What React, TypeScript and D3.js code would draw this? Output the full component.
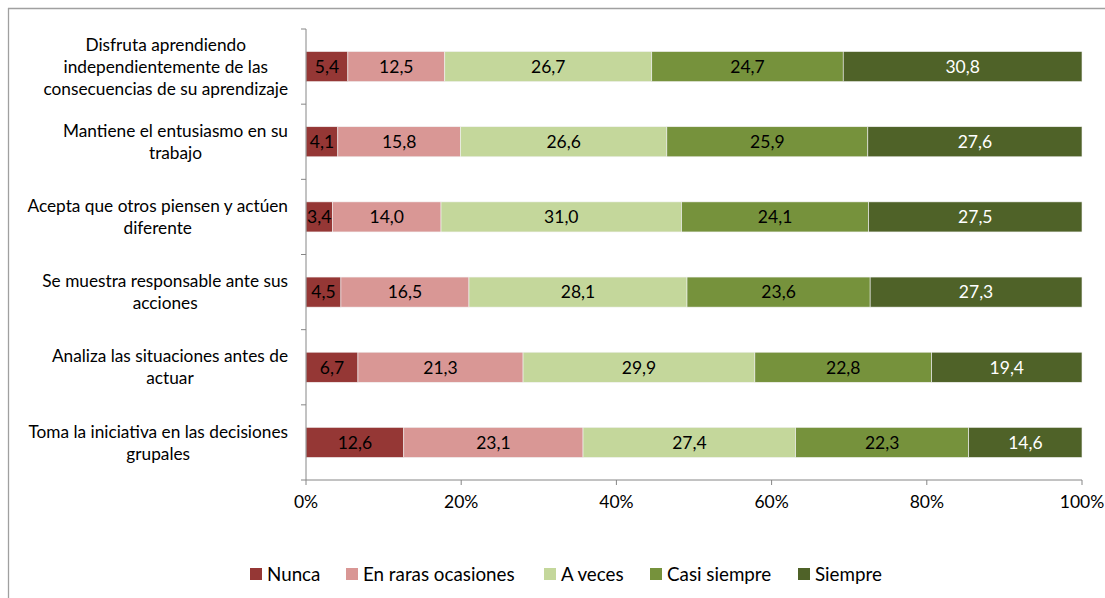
import React, { useEffect, useRef } from "react";
import * as d3 from "d3";

const categories: string[][] = [
  ["Disfruta aprendiendo", "independientemente de las", "consecuencias de su aprendizaje"],
  ["Mantiene el entusiasmo en su", "trabajo"],
  ["Acepta que otros piensen y actúen", "diferente"],
  ["Se muestra responsable ante sus", "acciones"],
  ["Analiza las situaciones antes de", "actuar"],
  ["Toma la iniciativa en las decisiones", "grupales"],
];
const seriesNames = ["Nunca", "En raras ocasiones", "A veces", "Casi siempre", "Siempre"];
const nunca = [5.4, 4.1, 3.4, 4.5, 6.7, 12.6];
const raras = [12.5, 15.8, 14.0, 16.5, 21.3, 23.1];
const aveces = [26.7, 26.6, 31.0, 28.1, 29.9, 27.4];
const casi = [24.7, 25.9, 24.1, 23.6, 22.8, 22.3];
const siempre = [30.8, 27.6, 27.5, 27.3, 19.4, 14.6];
const xTicks = [0, 20, 40, 60, 80, 100];

const colors = ["#953735", "#D99795", "#C4D79B", "#76923C", "#4F6228"];
const labelColors = ["#000", "#000", "#000", "#000", "#fff"];
const FONT = "Lato, 'Open Sans', sans-serif";
const legendX = [250, 346, 544, 650, 798];

export default function App() {
  const ref = useRef<SVGSVGElement>(null);
  useEffect(() => {
    const svg = d3.select(ref.current);
    svg.selectAll("*").remove();
    const W = 1105, H = 598;
    const left = 306, right = 1082, top = 29, bottom = 480;
    const series = [nunca, raras, aveces, casi, siempre];
    const rows = categories.map((_, i) => {
      const vals = series.map((s) => s[i]);
      const sum = d3.sum(vals);
      let acc = 0;
      return vals.map((v, k) => {
        const x0 = acc / sum;
        acc += v;
        return { x0, x1: acc / sum, v, k };
      });
    });

    // frame
    svg.append("line").attr("x1", 8.5).attr("x2", 8.5).attr("y1", 8).attr("y2", H)
      .attr("stroke", "#a0a0a0").attr("stroke-width", 1.3);
    svg.append("line").attr("x1", 8).attr("x2", W).attr("y1", 8.5).attr("y2", 8.5)
      .attr("stroke", "#a0a0a0").attr("stroke-width", 1.3);

    const x = d3.scaleLinear().domain([0, 1]).range([left, right]);
    const y = d3.scaleBand<number>().domain(d3.range(categories.length)).range([top, bottom]).paddingInner(0.6).paddingOuter(0.3);
    const yb = d3.scaleBand<number>().domain(d3.range(categories.length)).range([top, bottom]);

    // bars
    rows.forEach((segs, i) => {
      segs.forEach((s) => {
        svg.append("rect")
          .attr("x", x(s.x0)).attr("y", y(i)!)
          .attr("width", x(s.x1) - x(s.x0)).attr("height", y.bandwidth())
          .attr("fill", colors[s.k]).attr("stroke", "#f2f2f2").attr("stroke-width", 0.6);
        svg.append("text")
          .attr("x", (x(s.x0) + x(s.x1)) / 2).attr("y", y(i)! + y.bandwidth() / 2)
          .attr("dy", "0.36em").attr("text-anchor", "middle")
          .attr("font-family", FONT).attr("font-size", 17.5).attr("fill", labelColors[s.k])
          .text(s.v.toFixed(1).replace(".", ","));
      });
    });

    // axes
    const axisColor = "#868686";
    svg.append("line").attr("x1", left).attr("x2", left).attr("y1", top).attr("y2", bottom)
      .attr("stroke", axisColor).attr("stroke-width", 1);
    for (let i = 0; i <= categories.length; i++) {
      const yy = i < categories.length ? yb(i)! : bottom;
      svg.append("line").attr("x1", left - 5).attr("x2", left).attr("y1", yy).attr("y2", yy)
        .attr("stroke", axisColor);
    }
    svg.append("line").attr("x1", left).attr("x2", right).attr("y1", bottom).attr("y2", bottom)
      .attr("stroke", axisColor);
    xTicks.forEach((t) => {
      svg.append("line").attr("x1", x(t / 100)).attr("x2", x(t / 100)).attr("y1", bottom).attr("y2", bottom + 5)
        .attr("stroke", axisColor);
      svg.append("text").attr("x", x(t / 100)).attr("y", bottom + 28).attr("text-anchor", "middle")
        .attr("font-family", FONT).attr("font-size", 17.5).attr("fill", "#000").text(`${t}%`);
    });

    // category labels
    const lineH = 22;
    categories.forEach((lines, i) => {
      const cy = yb(i)! + yb.bandwidth() / 2;
      const g = svg.append("g");
      const texts = lines.map((l, j) =>
        g.append("text").attr("y", cy + (j - (lines.length - 1) / 2) * lineH).attr("dy", "0.36em")
          .attr("text-anchor", "middle").attr("font-family", FONT).attr("font-size", 17.25)
          .attr("fill", "#000").text(l)
      );
      const maxW = d3.max(texts, (t) => (t.node() as SVGTextElement).getComputedTextLength()) || 0;
      texts.forEach((t) => t.attr("x", 288 - maxW / 2));
    });

    // legend
    const ly = 574;
    seriesNames.forEach((n, k) => {
      const lx = legendX[k];
      svg.append("rect").attr("x", lx).attr("y", ly - 6).attr("width", 12).attr("height", 12).attr("fill", colors[k]);
      svg.append("text").attr("x", lx + 17).attr("y", ly).attr("dy", "0.36em")
        .attr("font-family", FONT).attr("font-size", 18.8).attr("fill", "#000").text(n);
    });
  }, []);
  return (
    <svg ref={ref} width={1105} height={598}
      style={{ position: "absolute", left: 0, top: 0, background: "#fff" }} />
  );
}
